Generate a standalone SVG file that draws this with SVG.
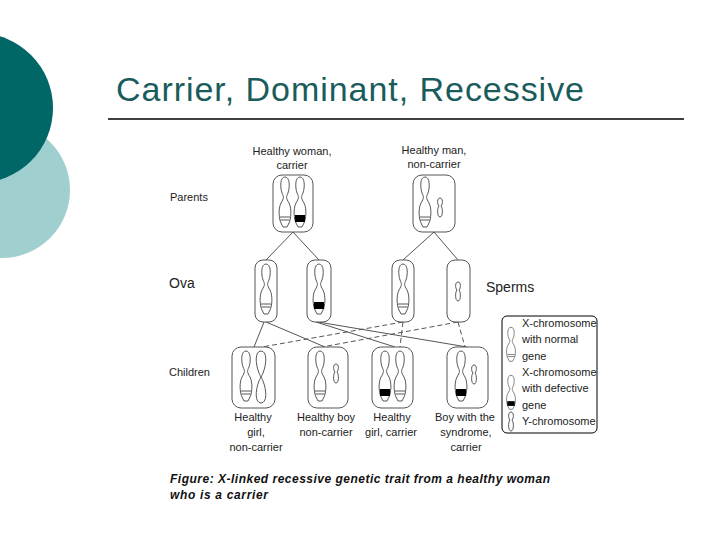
<svg xmlns="http://www.w3.org/2000/svg" xmlns:xlink="http://www.w3.org/1999/xlink" width="720" height="540" viewBox="0 0 720 540">
<style>
.t{font-family:"Liberation Sans",Arial,sans-serif;font-size:11px;fill:#222}
.lab{font-family:"Liberation Sans",Arial,sans-serif;font-size:14px;fill:#222}
.box{fill:#fff;stroke:#555;stroke-width:1}
.ch{fill:#fff;stroke:#444;stroke-width:0.9}
.ln{stroke:#555;stroke-width:1;fill:none}
.dl{stroke:#555;stroke-width:1;fill:none;stroke-dasharray:5,3}
</style>
<defs>
<g id="xn">
<path class="ch" d="M0,-26 C5,-26 5,-16 3,-10 C1,-6 1,-5 4,0 C7,6 6,16 4,20 L2,24 L-2,24 L-4,20 C-6,16 -7,6 -4,0 C-1,-5 -1,-6 -3,-10 C-5,-16 -5,-26 0,-26Z"/>
<line x1="-5" y1="14" x2="5" y2="14" stroke="#444" stroke-width="0.9"/>
<line x1="-4.5" y1="17" x2="4.5" y2="17" stroke="#444" stroke-width="0.9"/>
</g>
<g id="xd">
<path class="ch" d="M0,-26 C5,-26 5,-16 3,-10 C1,-6 1,-5 4,0 C7,6 6,16 4,20 L2,24 L-2,24 L-4,20 C-6,16 -7,6 -4,0 C-1,-5 -1,-6 -3,-10 C-5,-16 -5,-26 0,-26Z"/>
<rect x="-5" y="12" width="10" height="7" fill="#000"/>
</g>
<g id="xp">
<path class="ch" d="M0,-26 C6,-26 6,-14 2,-4 C0,0 0,0 2,4 C6,14 6,26 0,26 C-6,26 -6,14 -2,4 C0,0 0,0 -2,-4 C-6,-14 -6,-26 0,-26Z"/>
</g>
<g id="y">
<path class="ch" d="M0,-10 C3,-10 3,-4 1,-2 C3,0 3,9 0,9 C-3,9 -3,0 -1,-2 C-3,-4 -3,-10 0,-10Z"/>
</g>
</defs>
<rect width="720" height="540" fill="#fff"/>
<circle cx="2" cy="190" r="68" fill="#9fcfcf"/>
<circle cx="-22" cy="108" r="75" fill="#006666"/>
<text x="116" y="101" font-family="Liberation Sans,Arial,sans-serif" font-size="34" fill="#1a5c5c" textLength="468">Carrier, Dominant, Recessive</text>
<line x1="108" y1="119" x2="684" y2="119" stroke="#000" stroke-width="1.5"/>

<g id="connectors">
<line class="ln" x1="293" y1="232" x2="266" y2="260"/>
<line class="ln" x1="293" y1="232" x2="319" y2="260"/>
<line class="ln" x1="434" y1="232" x2="403" y2="260"/>
<line class="ln" x1="434" y1="232" x2="458" y2="260"/>
<line class="ln" x1="264" y1="322" x2="254" y2="347"/>
<line class="ln" x1="266" y1="322" x2="325" y2="347"/>
<line class="ln" x1="316" y1="322" x2="395" y2="347"/>
<line class="ln" x1="318" y1="322" x2="467" y2="347"/>
<line class="dl" x1="403" y1="322" x2="262" y2="347"/>
<line class="dl" x1="403" y1="322" x2="400" y2="347"/>
<line class="dl" x1="458" y1="322" x2="322" y2="347"/>
<line class="dl" x1="458" y1="322" x2="465" y2="347"/>
</g>

<g id="labels-left">
<text class="t" x="170" y="201" font-size="13">Parents</text>
<text class="lab" x="169" y="288">Ova</text>
<text class="lab" x="486" y="292">Sperms</text>
<text class="t" x="169" y="376" font-size="13">Children</text>
</g>

<g id="mother">
<text class="t" x="292" y="155" text-anchor="middle">Healthy woman,</text>
<text class="t" x="292" y="169" text-anchor="middle">carrier</text>
<rect class="box" x="273" y="175" width="40" height="57" rx="9"/>
<use href="#xn" x="285" y="203"/>
<use href="#xd" x="300" y="203"/>
</g>
<g id="father">
<text class="t" x="434" y="154" text-anchor="middle">Healthy man,</text>
<text class="t" x="434" y="168" text-anchor="middle">non-carrier</text>
<rect class="box" x="413" y="175" width="42" height="57" rx="9"/>
<use href="#xn" x="425" y="203"/>
<use href="#y" x="440" y="208"/>
</g>
<g id="ovum1"><rect class="box" x="255" y="260" width="22" height="62" rx="8"/><use href="#xn" x="266" y="290"/></g>
<g id="ovum2"><rect class="box" x="307" y="260" width="24" height="62" rx="8"/><use href="#xd" x="319" y="290"/></g>
<g id="sperm1"><rect class="box" x="392" y="260" width="22" height="62" rx="8"/><use href="#xn" x="403" y="290"/></g>
<g id="sperm2"><rect class="box" x="447" y="260" width="23" height="62" rx="8"/><use href="#y" x="458" y="292"/></g>

<g id="child1">
<rect class="box" x="232" y="347" width="43" height="61" rx="9"/>
<use href="#xn" x="246" y="377"/><use href="#xp" x="261" y="377"/>
<text class="t" x="253" y="421" text-anchor="middle">Healthy</text>
<text class="t" x="256" y="436" text-anchor="middle">girl,</text>
<text class="t" x="256" y="451" text-anchor="middle">non-carrier</text>
</g>
<g id="child2">
<rect class="box" x="308" y="347" width="40" height="61" rx="9"/>
<use href="#xn" x="320" y="377"/><use href="#y" x="336" y="374"/>
<text class="t" x="326" y="421" text-anchor="middle">Healthy boy</text>
<text class="t" x="326" y="436" text-anchor="middle">non-carrier</text>
</g>
<g id="child3">
<rect class="box" x="372" y="347" width="41" height="61" rx="9"/>
<use href="#xd" x="385" y="377"/><use href="#xn" x="400" y="377"/>
<text class="t" x="392" y="421" text-anchor="middle">Healthy</text>
<text class="t" x="391" y="436" text-anchor="middle">girl, carrier</text>
</g>
<g id="child4">
<rect class="box" x="447" y="347" width="41" height="61" rx="9"/>
<use href="#xd" x="461" y="377"/><use href="#y" x="474" y="375"/>
<text class="t" x="465" y="421" text-anchor="middle">Boy with the</text>
<text class="t" x="466" y="436" text-anchor="middle">syndrome,</text>
<text class="t" x="466" y="451" text-anchor="middle">carrier</text>
</g>

<g id="legend">
<rect x="502" y="316" width="95" height="117" rx="5" fill="#fff" stroke="#000" stroke-width="1"/>
<use href="#xn" transform="translate(511,345) scale(0.75,0.68)"/>
<use href="#xd" transform="translate(511,393) scale(0.75,0.68)"/>
<use href="#y" x="511" y="422"/>
<text class="t" x="522" y="327" font-size="10">X-chromosome</text>
<text class="t" x="522" y="343" font-size="10">with normal</text>
<text class="t" x="522" y="360" font-size="10">gene</text>
<text class="t" x="522" y="376" font-size="10">X-chromosome</text>
<text class="t" x="522" y="392" font-size="10">with defective</text>
<text class="t" x="522" y="409" font-size="10">gene</text>
<text class="t" x="522" y="425" font-size="10">Y-chromosome</text>
</g>

<g id="caption">
<text x="170" y="483" font-family="Liberation Sans,Arial,sans-serif" font-size="12" font-style="italic" font-weight="bold" fill="#111" textLength="380">Figure: X-linked recessive genetic trait from a healthy woman</text>
<text x="170" y="499" font-family="Liberation Sans,Arial,sans-serif" font-size="12" font-style="italic" font-weight="bold" fill="#111" textLength="98">who is a carrier</text>
</g>
</svg>
